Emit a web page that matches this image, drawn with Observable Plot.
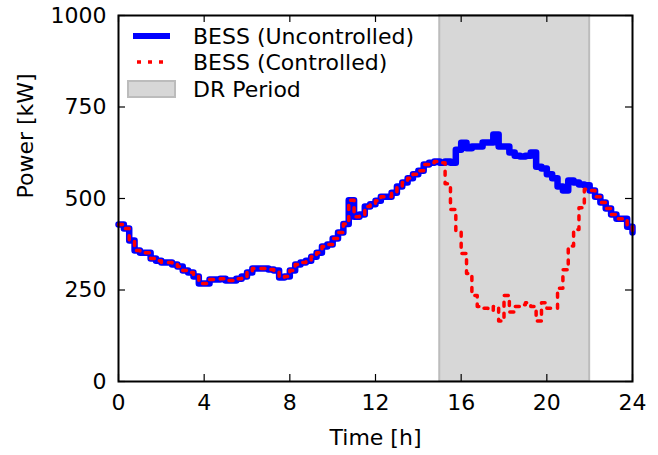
<!DOCTYPE html>
<html>
<head>
<meta charset="utf-8">
<script src="https://cdn.jsdelivr.net/npm/d3@7"></script>
<script src="https://cdn.jsdelivr.net/npm/@observablehq/plot@0.6"></script>
<style>
  html, body { margin: 0; padding: 0; background: white; }
  #wrap { position: relative; width: 658px; height: 455px; font-family: "DejaVu Sans", sans-serif; }
  #legend { position: absolute; left: 0; top: 0; pointer-events: none; }
</style>
</head>
<body>
<div id="wrap"></div>
<script>
// Time axis at 15-minute resolution (hours)
const times = d3.range(0, 24.001, 0.25);

// BESS power, uncontrolled (kW), one value per 15 minutes, 0h..24h
const uncontrolled = [
  429, 418, 385, 358, 352, 352, 336, 330, 325, 325, 320, 314,
  303, 298, 287, 268, 268, 279, 279, 281, 276, 276, 281, 287,
  298, 309, 309, 309, 306, 303, 284, 287, 303, 320, 325, 330,
  341, 352, 369, 374, 391, 407, 430, 495, 450, 456, 478, 484,
  494, 505, 505, 516, 533, 544, 555, 566, 576, 593, 598, 601,
  598, 601, 598, 633, 652, 637, 642, 642, 653, 653, 675, 642,
  642, 626, 617, 615, 617, 626, 587, 582, 566, 555, 533, 522,
  549, 544, 538, 536, 522, 505, 489, 473, 456, 445, 445, 423,
  407
];

// DR period (hours)
const drStart = 15;
const drEnd = 22;

// BESS power, controlled (kW) during the DR period, 15h..22h every 15 min
const controlledDR = [
  598, 540, 470, 410, 350, 295, 235, 205, 200, 195, 205, 165,
  235, 190, 205, 210, 215, 205, 165, 215, 200, 200, 255, 305,
  370, 415, 475, 525, 522
];

const xTicks = [0, 4, 8, 12, 16, 20, 24];
const yTicks = [0, 250, 500, 750, 1000];

const seriesNames = ["BESS (Uncontrolled)", "BESS (Controlled)", "DR Period"];

// Build table
const table = times.map((t, i) => {
  let c = uncontrolled[i];
  const j = Math.round((t - drStart) / 0.25);
  if (t >= drStart && t <= drEnd && j >= 0 && j < controlledDR.length) c = controlledDR[j];
  return {t, u: uncontrolled[i], c};
});

const W = 658, H = 455, mL = 118, mR = 26, mT = 15, mB = 74;
const fw = W - mL - mR, fh = H - mT - mB;
const FS = 22;

const chart = Plot.plot({
  width: W, height: H,
  marginLeft: mL, marginRight: mR, marginTop: mT, marginBottom: mB,
  style: {fontFamily: "DejaVu Sans", fontSize: FS + "px", background: "white", color: "black", overflow: "visible"},
  x: {domain: [0, 24]},
  y: {domain: [0, 1000]},
  marks: [
    Plot.rect([{x1: drStart, x2: drEnd}], {x1: "x1", x2: "x2", fill: "#d7d7d7", stroke: "#bcbcbc", strokeWidth: 2}),
    Plot.line(table, {x: "t", y: "u", stroke: "#0000ff", strokeWidth: 6.5, curve: "step-after", strokeLinejoin: "round", strokeLinecap: "round"}),
    Plot.line(table, {x: "t", y: "c", stroke: "#ff0000", strokeWidth: 3.5, strokeDasharray: "4,7", curve: "step-after"}),
    Plot.tickX(xTicks, {x: d => d, insetTop: fh - 7, stroke: "black", strokeWidth: 1.2}),
    Plot.tickX(xTicks, {x: d => d, insetBottom: fh - 7, stroke: "black", strokeWidth: 1.2}),
    Plot.tickY(yTicks, {y: d => d, insetRight: fw - 7, stroke: "black", strokeWidth: 1.2}),
    Plot.tickY(yTicks, {y: d => d, insetLeft: fw - 7, stroke: "black", strokeWidth: 1.2}),
    Plot.frame({stroke: "black", strokeWidth: 2}),
    Plot.axisX(xTicks, {tickSize: 0, tickPadding: 13, fontSize: FS, label: null, tickFormat: d => String(d)}),
    Plot.axisY(yTicks, {tickSize: 0, tickPadding: 12, fontSize: FS, label: null, tickFormat: d => String(d)}),
    Plot.text(["Time [h]"], {frameAnchor: "bottom", dy: 63, fontSize: FS}),
    Plot.text(["Power [kW]"], {frameAnchor: "left", dx: -93, rotate: -90, fontSize: FS})
  ]
});

const wrap = document.getElementById("wrap");
wrap.appendChild(chart);

// Legend overlay
const ns = "http://www.w3.org/2000/svg";
const lg = document.createElementNS(ns, "svg");
lg.setAttribute("id", "legend");
lg.setAttribute("width", W);
lg.setAttribute("height", H);
lg.innerHTML = `
  <line x1="133" x2="170" y1="36" y2="36" stroke="#0000ff" stroke-width="6"/>
  <line x1="137" x2="165" y1="62" y2="62" stroke="#ff0000" stroke-width="3.5" stroke-dasharray="4,7"/>
  <rect x="128" y="81" width="47" height="16" fill="#d7d7d7" stroke="#bcbcbc" stroke-width="2"/>
`;
const ys = [36, 62, 89];
seriesNames.forEach((name, i) => {
  const t = document.createElementNS(ns, "text");
  t.setAttribute("x", 193);
  t.setAttribute("y", ys[i]);
  t.setAttribute("dy", "0.35em");
  t.setAttribute("font-family", "DejaVu Sans");
  t.setAttribute("font-size", FS);
  t.setAttribute("fill", "black");
  t.textContent = name;
  lg.appendChild(t);
});
wrap.appendChild(lg);
</script>
</body>
</html>
